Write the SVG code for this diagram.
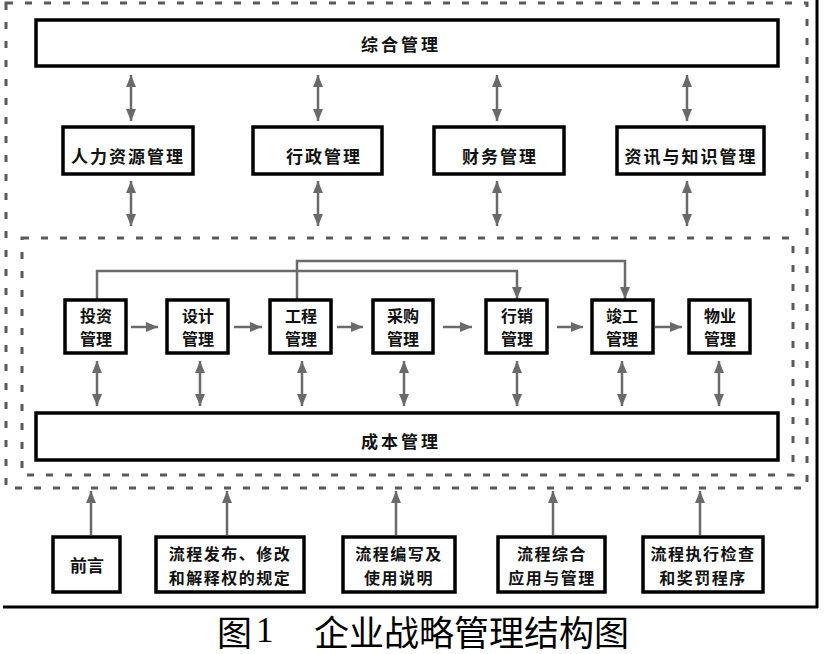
<svg xmlns="http://www.w3.org/2000/svg" width="840" height="654" viewBox="0 0 840 654">
<style>
.box{fill:#fff;stroke:#000;stroke-width:3.5}
.dash{fill:none;stroke:#5a5a5a;stroke-width:3;stroke-dasharray:7 12}
.frame{stroke:#000;stroke-width:3;fill:none}
.ln{fill:none;stroke:#6a6a6a;stroke-width:2.5}
.dbl{marker-start:url(#ah);marker-end:url(#ah)}
.one{marker-end:url(#ah)}
.t{font-family:"Noto Sans CJK SC",sans-serif;font-weight:700;font-size:17px;fill:#111;text-anchor:middle;dominant-baseline:central}
.s{font-size:16px}
.big{letter-spacing:3px}
.cap{font-family:"Noto Sans CJK SC",sans-serif;font-size:35px;fill:#000;dominant-baseline:central}
</style>
<defs>
<marker id="ah" markerUnits="userSpaceOnUse" markerWidth="13" markerHeight="11" refX="12" refY="5" orient="auto-start-reverse" viewBox="0 0 13 10">
<path d="M0,0 L12,5 L0,10 z" fill="#6a6a6a"/>
</marker>
</defs>
<g id="frames">
<line class="frame" x1="817" y1="0" x2="817" y2="608"/>
<line class="frame" x1="3" y1="607" x2="818" y2="607"/>
<rect class="dash" x="6" y="3" width="801" height="485"/>
<rect class="dash" x="22" y="238" width="771" height="237"/>
</g>
<g id="connectors">
<path class="ln dbl" d="M131,75 V121"/>
<path class="ln dbl" d="M318,75 V121"/>
<path class="ln dbl" d="M497,75 V121"/>
<path class="ln dbl" d="M687,75 V121"/>
<path class="ln dbl" d="M131,181 V226"/>
<path class="ln dbl" d="M318,181 V226"/>
<path class="ln dbl" d="M497,181 V226"/>
<path class="ln dbl" d="M687,181 V226"/>
<path class="ln one" d="M131,327 H158"/>
<path class="ln one" d="M234,327 H262"/>
<path class="ln one" d="M337,327 H363"/>
<path class="ln one" d="M443,327 H472"/>
<path class="ln one" d="M557,327 H583"/>
<path class="ln one" d="M655,327 H682"/>
<path class="ln one" d="M97,299 V271 H517 V299"/>
<path class="ln one" d="M297,299 V261 H625 V299"/>
<path class="ln dbl" d="M97,361 V406"/>
<path class="ln dbl" d="M200,361 V406"/>
<path class="ln dbl" d="M302,361 V406"/>
<path class="ln dbl" d="M404,361 V406"/>
<path class="ln dbl" d="M517,361 V406"/>
<path class="ln dbl" d="M622,361 V406"/>
<path class="ln dbl" d="M719,361 V406"/>
<path class="ln one" d="M91,535 V491"/>
<path class="ln one" d="M227,535 V491"/>
<path class="ln one" d="M396,535 V491"/>
<path class="ln one" d="M553,535 V491"/>
<path class="ln one" d="M700,535 V491"/>
</g>
<g id="n-zonghe"><rect class="box" x="36" y="20" width="742" height="46"/><text class="t big" x="401" y="43">综合管理</text></g>
<g id="n-renli"><rect class="box" x="63" y="127" width="130" height="47"/><text class="t" x="128" y="155" letter-spacing="2">人力资源管理</text></g>
<g id="n-xingzheng"><rect class="box" x="253" y="127" width="129" height="47"/><text class="t" x="324" y="155" letter-spacing="2">行政管理</text></g>
<g id="n-caiwu"><rect class="box" x="434" y="127" width="130" height="47"/><text class="t" x="500" y="155" letter-spacing="2">财务管理</text></g>
<g id="n-zixun"><rect class="box" x="617" y="127" width="147" height="47"/><text class="t" x="691" y="155" letter-spacing="2">资讯与知识管理</text></g>
<g id="n-touzi"><rect class="box" x="65" y="300" width="61" height="53"/><text class="t s" x="96" y="315">投资</text><text class="t s" x="96" y="338">管理</text></g>
<g id="n-sheji"><rect class="box" x="167" y="300" width="61" height="53"/><text class="t s" x="198" y="315">设计</text><text class="t s" x="198" y="338">管理</text></g>
<g id="n-gongcheng"><rect class="box" x="270" y="300" width="61" height="53"/><text class="t s" x="301" y="315">工程</text><text class="t s" x="301" y="338">管理</text></g>
<g id="n-caigou"><rect class="box" x="373" y="300" width="60" height="53"/><text class="t s" x="403" y="315">采购</text><text class="t s" x="403" y="338">管理</text></g>
<g id="n-xiaoshou"><rect class="box" x="486" y="300" width="61" height="53"/><text class="t s" x="517" y="315">行销</text><text class="t s" x="517" y="338">管理</text></g>
<g id="n-jungong"><rect class="box" x="592" y="300" width="61" height="53"/><text class="t s" x="622" y="315">竣工</text><text class="t s" x="622" y="338">管理</text></g>
<g id="n-wuye"><rect class="box" x="689" y="300" width="61" height="53"/><text class="t s" x="720" y="315">物业</text><text class="t s" x="720" y="338">管理</text></g>
<g id="n-chengben"><rect class="box" x="36" y="413" width="742" height="47"/><text class="t big" x="401" y="440">成本管理</text></g>
<g id="n-qianyan"><rect class="box" x="53" y="537" width="67" height="55"/><text class="t" x="87" y="564">前言</text></g>
<g id="n-fabu"><rect class="box" x="156" y="537" width="148" height="55"/><text class="t s" x="230" y="553" letter-spacing="1.5">流程发布、修改</text><text class="t s" x="230" y="577" letter-spacing="1.5">和解释权的规定</text></g>
<g id="n-bianxie"><rect class="box" x="343" y="537" width="112" height="55"/><text class="t s" x="399" y="553" letter-spacing="1.5">流程编写及</text><text class="t s" x="399" y="577" letter-spacing="1.5">使用说明</text></g>
<g id="n-zonghe2"><rect class="box" x="498" y="537" width="107" height="55"/><text class="t s" x="552" y="553" letter-spacing="1.5">流程综合</text><text class="t s" x="552" y="577" letter-spacing="1.5">应用与管理</text></g>
<g id="n-zhixing"><rect class="box" x="643" y="537" width="120" height="55"/><text class="t s" x="703" y="553" letter-spacing="1.5">流程执行检查</text><text class="t s" x="703" y="577" letter-spacing="1.5">和奖罚程序</text></g>
<g id="caption">
<text class="cap" x="217" y="630">图</text>
<text class="cap" x="256" y="630" style="font-family:'Liberation Serif',serif">1</text>
<text class="cap" x="314" y="630">企业战略管理结构图</text>
</g>
</svg>
